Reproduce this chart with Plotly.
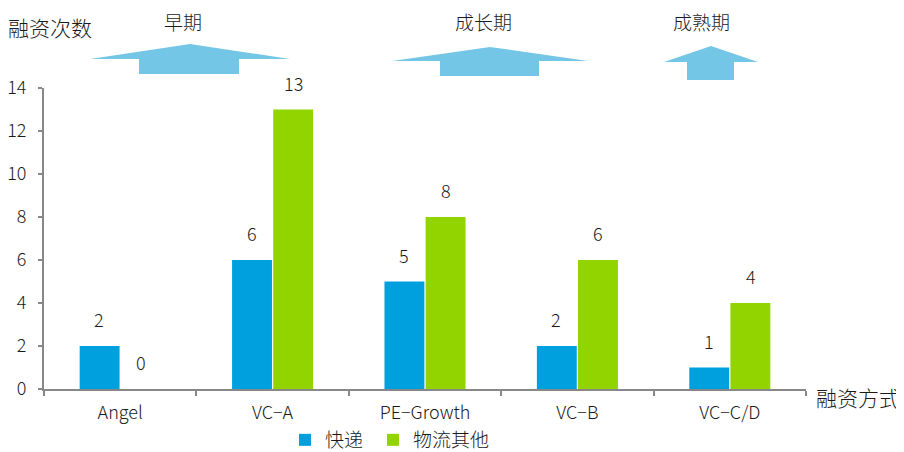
import plotly.graph_objects as go

categories = ["Angel", "VC\u2212A", "PE\u2212Growth", "VC\u2212B", "VC\u2212C/D"]
express = [2, 6, 5, 2, 1]
logistics_other = [0, 13, 8, 6, 4]
series_names = ["快递", "物流其他"]
y_ticks = [0, 2, 4, 6, 8, 10, 12, 14]
stage_labels = ["早期", "成长期", "成熟期"]

# page has an 8px body margin, so the figure is drawn at (8, 8)
OFF = 8
W, H = 904 - OFF, 452 - OFF
L, R, T, B = 44 - OFF, 98, 88 - OFF, 63
PW, PH = W - L - R, H - T - B

def px(x):  # screen pixel -> paper
    return (x - OFF - L) / PW

def py(y):
    return (H + OFF - B - y) / PH

BLUE = "#00A0DE"
GREEN = "#92D400"
ARROW = "#73C6E6"
FONT = "Noto Sans CJK SC"
TXT = "#1a1a1a"

fig = go.Figure()
fig.add_trace(go.Bar(x=categories, y=express, name=series_names[0], legend="legend",
                     marker=dict(color=BLUE, line=dict(width=0))))
fig.add_trace(go.Bar(x=categories, y=logistics_other, name=series_names[1], legend="legend2",
                     marker=dict(color=GREEN, line=dict(width=0))))

lab_font = dict(size=18, color=TXT, weight=300)
annotations = []
for cat, v in zip(categories, express):
    annotations.append(dict(x=cat, y=v, xref="x", yref="y", text=str(v), showarrow=False,
                            xshift=-21, yshift=27, yanchor="middle", font=lab_font))
for cat, v in zip(categories, logistics_other):
    annotations.append(dict(x=cat, y=v, xref="x", yref="y", text=str(v), showarrow=False,
                            xshift=21, yshift=27, yanchor="middle", font=lab_font))

# stage labels
for lbl, cx in zip(stage_labels, [183, 483, 701]):
    annotations.append(dict(x=px(cx), y=py(21), xref="paper", yref="paper", text=lbl,
                            xanchor="center", yanchor="middle", showarrow=False,
                            font=dict(size=19, color=TXT, weight=300)))
annotations.append(dict(x=px(6), y=py(27), xref="paper", yref="paper", text="融资次数",
                        xanchor="left", yanchor="middle", showarrow=False,
                        font=dict(size=21, color=TXT, weight=300)))
annotations.append(dict(x=px(814), y=py(397), xref="paper", yref="paper", text="融资方式",
                        xanchor="left", yanchor="middle", showarrow=False,
                        font=dict(size=21, color=TXT, weight=300)))

def arrow_path(x0, x1, peak_y, wing_y, s0, s1, bottom):
    cx = (x0 + x1) / 2
    pts = [(x0, wing_y), (cx, peak_y), (x1, wing_y), (s1, wing_y), (s1, bottom),
           (s0, bottom), (s0, wing_y)]
    d = "M " + " L ".join(f"{px(a):.5f},{py(b):.5f}" for a, b in pts) + " Z"
    return dict(type="path", path=d, xref="paper", yref="paper",
                fillcolor=ARROW, line=dict(width=0), layer="above")

shapes = [
    arrow_path(90, 290, 44, 59, 139, 239, 74),
    arrow_path(392, 588, 47, 61, 440, 539, 76),
    arrow_path(664, 758, 46, 62, 687, 734, 80),
]

legend_common = dict(orientation="h", xanchor="left", y=py(440), yanchor="middle",
                     font=dict(size=19, weight=300), itemwidth=30,
                     bgcolor="rgba(0,0,0,0)")

fig.update_layout(
    width=W, height=H,
    margin=dict(l=L, r=R, t=T, b=B, autoexpand=False),
    paper_bgcolor="white", plot_bgcolor="white",
    font=dict(family=FONT, size=18, color=TXT, weight=300),
    barmode="group", bargap=0.46, bargroupgap=0.03,
    showlegend=True,
    legend=dict(x=px(285), **legend_common),
    legend2=dict(x=px(373), **legend_common),
    annotations=annotations,
    shapes=shapes,
    xaxis=dict(type="category", showline=True, linecolor="#888", linewidth=2,
               ticks="outside", tickson="boundaries", ticklen=5, tickcolor="#888",
               tickwidth=1.5, showgrid=False, automargin=False, ticklabelstandoff=6,
               tickfont=dict(size=18, color=TXT, weight=300)),
    yaxis=dict(range=[0, 14], tickvals=y_ticks, showline=True, linecolor="#888", linewidth=2,
               ticks="outside", ticklen=4, tickcolor="#888", tickwidth=1.5, showgrid=False,
               zeroline=False, automargin=False, ticklabelstandoff=8,
               tickfont=dict(size=18, color=TXT, weight=300)),
)

fig.write_html("out.html")
